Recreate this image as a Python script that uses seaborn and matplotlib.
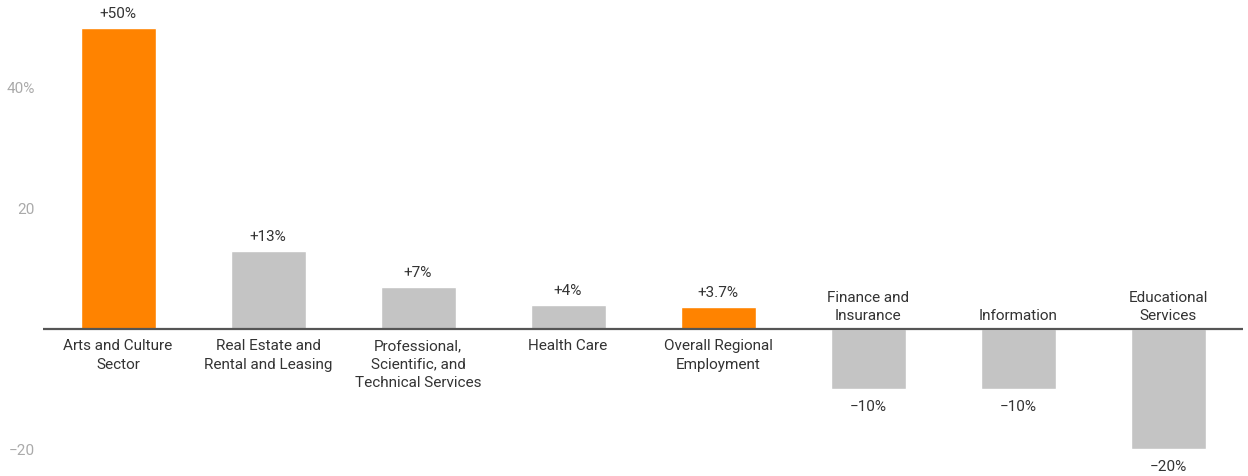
import matplotlib
matplotlib.use("Agg")
import matplotlib.pyplot as plt
import seaborn as sns
import pandas as pd

categories = [
    "Arts and Culture\nSector",
    "Real Estate and\nRental and Leasing",
    "Professional,\nScientific, and\nTechnical Services",
    "Health Care",
    "Overall Regional\nEmployment",
    "Finance and\nInsurance",
    "Information",
    "Educational\nServices",
]
values = [50, 13, 7, 4, 3.7, -10, -10, -20]
value_labels = ["+50%", "+13%", "+7%", "+4%", "+3.7%", "\u221210%", "\u221210%", "\u221220%"]
highlight = [True, False, False, False, True, False, False, False]
y_ticks = [-20, 20, 40]
y_tick_labels = ["\u221220", "20", "40%"]

ORANGE = "#FF8300"
GRAY = "#C4C4C4"
TEXT = "#333333"

sns.set_theme(style="white")
plt.rcParams["font.family"] = ["Roboto", "DejaVu Sans"]

df = pd.DataFrame({"category": categories, "value": values,
                   "group": ["hl" if h else "base" for h in highlight]})

fig = plt.figure(figsize=(12.48, 4.76), dpi=100)
ax = fig.add_axes([43 / 1248, 0, 1200 / 1248, 1])

sns.barplot(data=df, x="category", y="value", hue="group",
            palette={"hl": ORANGE, "base": GRAY}, width=0.5,
            dodge=False, legend=False, ax=ax, saturation=1)

ax.set_xlim(-0.5, 7.5)
ax.set_ylim(-24.4, 54.6)
ax.axhline(0, color="#555555", lw=1.6, zorder=3)

for s in ax.spines.values():
    s.set_visible(False)
ax.set_xlabel("")
ax.set_ylabel("")
ax.set_xticks([])
ax.set_yticks(y_ticks)
ax.set_yticklabels(y_tick_labels, color="#AAAAAA", fontsize=11)
ax.tick_params(axis="y", length=0, pad=5.8)
ax.grid(False)

fs = 11
for i, (cat, v, lab) in enumerate(zip(categories, values, value_labels)):
    if v >= 0:
        ax.annotate(lab, (i, v), xytext=(0, 5), textcoords="offset points",
                    ha="center", va="bottom", fontsize=fs, color=TEXT)
        ax.annotate(cat, (i, 0), xytext=(0, -7.5), textcoords="offset points",
                    ha="center", va="top", fontsize=fs, color=TEXT,
                    linespacing=1.38)
    else:
        ax.annotate(lab, (i, v), xytext=(0, -7.5), textcoords="offset points",
                    ha="center", va="top", fontsize=fs, color=TEXT)
        ax.annotate(cat, (i, 0), xytext=(0, 4), textcoords="offset points",
                    ha="center", va="bottom", fontsize=fs, color=TEXT,
                    linespacing=1.38)

fig.savefig("out.png", dpi=100, facecolor="white")
